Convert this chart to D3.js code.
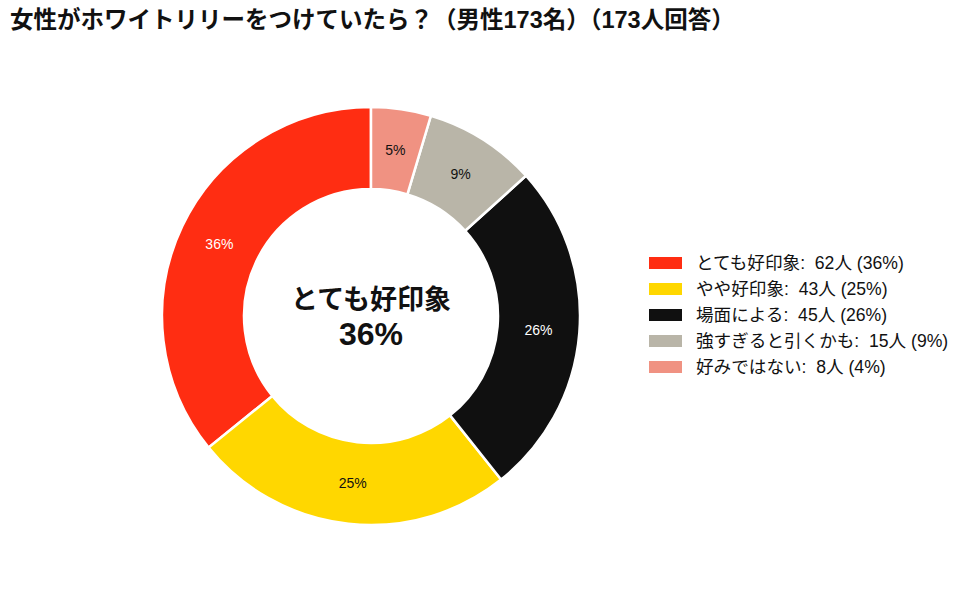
<!DOCTYPE html>
<html>
<head>
<meta charset="utf-8">
<script src="https://cdn.jsdelivr.net/npm/d3@7"></script>
<style>
  body { margin: 0; background: #fff; }
  svg { font-family: "Liberation Sans", "Noto Sans CJK JP", sans-serif; }
  text { white-space: pre; }
</style>
</head>
<body>
<svg id="chart" width="959" height="589"></svg>
<script>
// chart data
const categories = ['とても好印象', 'やや好印象', '場面による', '強すぎると引くかも', '好みではない'];
const counts = [62, 43, 45, 15, 8];
const sliceLabels = ['36%', '25%', '26%', '9%', '5%'];
const legendPct = ['36%', '25%', '26%', '9%', '4%'];
const colors = ['#ff2d12', '#ffd700', '#101010', '#b9b5a8', '#f09282'];
const labelColors = ['#ffffff', '#111111', '#ffffff', '#111111', '#111111'];

const svg = d3.select('#chart');
const cx = 371, cy = 316, outerR = 209, innerR = 127;

// title
svg.append('text')
    .attr('x', 10).attr('y', 28)
    .attr('font-size', '23.5px').attr('font-weight', 'bold').attr('fill', '#111')
    .text('女性がホワイトリリーをつけていたら？（男性173名）（173人回答）');

// pie goes counter-clockwise from 12 o'clock
const pie = d3.pie().sort(null).startAngle(0).endAngle(-2 * Math.PI);
const arcs = pie(counts);
const arc = d3.arc().innerRadius(innerR).outerRadius(outerR);

const g = svg.append('g').attr('transform', `translate(${cx},${cy})`);
g.selectAll('path').data(arcs).enter().append('path')
    .attr('d', arc)
    .attr('fill', (d, i) => colors[i])
    .attr('stroke', '#fff').attr('stroke-width', 2.5);

g.selectAll('.lbl').data(arcs).enter().append('text')
    .attr('class', 'lbl')
    .attr('transform', d => `translate(${arc.centroid(d)})`)
    .attr('text-anchor', 'middle').attr('dy', '0.35em')
    .attr('font-size', '14px')
    .attr('fill', (d, i) => labelColors[i])
    .text((d, i) => sliceLabels[i]);

// center label
g.append('text').attr('text-anchor', 'middle').attr('y', -7)
    .attr('font-size', '27px').attr('font-weight', 'bold').attr('fill', '#111')
    .text(categories[0]);
g.append('text').attr('text-anchor', 'middle').attr('y', 29)
    .attr('font-size', '32px').attr('font-weight', 'bold').attr('fill', '#111')
    .text(sliceLabels[0]);

// legend
const y = d3.scaleBand().domain(d3.range(categories.length)).range([250, 380]);
const legend = svg.append('g');
const rows = legend.selectAll('g').data(categories).enter().append('g')
    .attr('transform', (d, i) => `translate(649,${y(i) + y.bandwidth() / 2})`);
rows.append('rect').attr('x', 0).attr('y', -6).attr('width', 33).attr('height', 12)
    .attr('fill', (d, i) => colors[i]);
rows.append('text').attr('x', 47).attr('dy', '0.35em')
    .attr('font-size', '17.6px').attr('fill', '#111')
    .text((d, i) => `${d}:  ${counts[i]}人 (${legendPct[i]})`);
</script>
</body>
</html>
